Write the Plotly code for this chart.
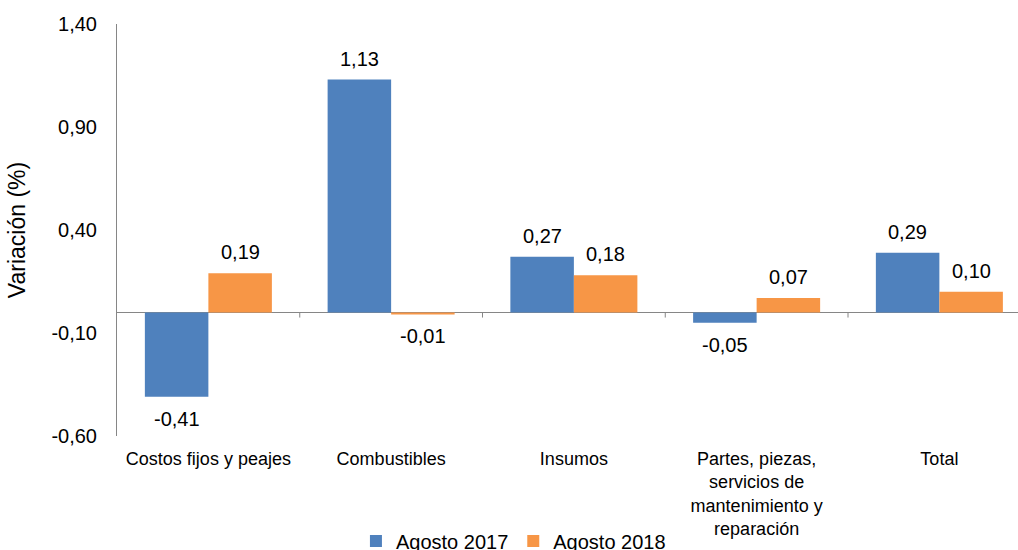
import plotly.graph_objects as go

categories = ["Costos fijos y peajes", "Combustibles", "Insumos",
              "Partes, piezas,<br>servicios de<br>mantenimiento y<br>reparación", "Total"]
series_names = ["Agosto 2017", "Agosto 2018"]
values_2017 = [-0.41, 1.13, 0.27, -0.05, 0.29]
values_2018 = [0.19, -0.01, 0.18, 0.07, 0.10]
y_tickvals = [-0.60, -0.10, 0.40, 0.90, 1.40]
y_ticktext = ["-0,60", "-0,10", "0,40", "0,90", "1,40"]

colors = ["#4F81BD", "#F79646"]
FONT = "Arial, Liberation Sans, sans-serif"

FIG_W, FIG_H = 1018, 550
M_L, M_R, M_T, M_B = 117, 0, 24, 114
BARGAP = 0.305
CAT_PX = 182.75  # pixel width of one category slot


def fmt(v):
    return f"{v:.2f}".replace(".", ",")


n = len(categories)
fig = go.Figure()
for name, vals, col in zip(series_names, [values_2017, values_2018], colors):
    fig.add_trace(go.Bar(
        x=list(range(n)), y=vals, name=name,
        marker=dict(color=col, line=dict(width=0)),
        hoverinfo="skip",
    ))

# value labels, placed relative to each bar's end
bar_px = CAT_PX * (1 - BARGAP) / 2
for k, vals in enumerate([values_2017, values_2018]):
    xshift = (k - 0.5) * bar_px
    for i, v in enumerate(vals):
        fig.add_annotation(
            x=i, y=v, xref="x", yref="y", text=fmt(v), showarrow=False,
            xanchor="center", yanchor="middle", xshift=xshift,
            yshift=21 if v >= 0 else -22,
            font=dict(size=20, color="#000000", family=FONT),
        )

# small tick marks on the zero line at category boundaries
for i in range(1, n):
    fig.add_shape(type="line", xref="x", yref="y", x0=i - 0.5, x1=i - 0.5,
                  y0=0, y1=-0.025, line=dict(color="#868686", width=1))

fig.update_layout(
    width=FIG_W, height=FIG_H,
    paper_bgcolor="white", plot_bgcolor="white",
    margin=dict(l=M_L, r=M_R, t=M_T, b=M_B, autoexpand=False),
    barmode="group", bargap=BARGAP, bargroupgap=0,
    font=dict(family=FONT, color="#000000"),
    showlegend=True,
    legend=dict(orientation="h", x=0.44, xanchor="center",
                y=-0.255, yanchor="middle", font=dict(size=20),
                itemwidth=30, traceorder="normal"),
)
fig.update_xaxes(
    tickmode="array", tickvals=list(range(n)), ticktext=categories,
    range=[-0.5, n - 0.5 - (M_L + n * CAT_PX - FIG_W) / CAT_PX],
    showline=False, showgrid=False, zeroline=False, ticks="",
    tickfont=dict(size=18), tickangle=0, automargin=False,
    ticklabelstandoff=10,
)
fig.update_yaxes(
    range=[-0.6, 1.4], tickvals=y_tickvals, ticktext=y_ticktext,
    showline=True, linecolor="#868686", linewidth=1,
    showgrid=False, zeroline=True, zerolinecolor="#868686", zerolinewidth=1,
    ticks="", tickfont=dict(size=20), automargin=False,
    ticklabelstandoff=15,
    title=dict(text="Variación (%)", font=dict(size=23), standoff=19),
)

fig.write_html("out.html", config={"displayModeBar": False},
               post_script="document.body.style.margin='0';document.body.style.overflow='hidden';")
